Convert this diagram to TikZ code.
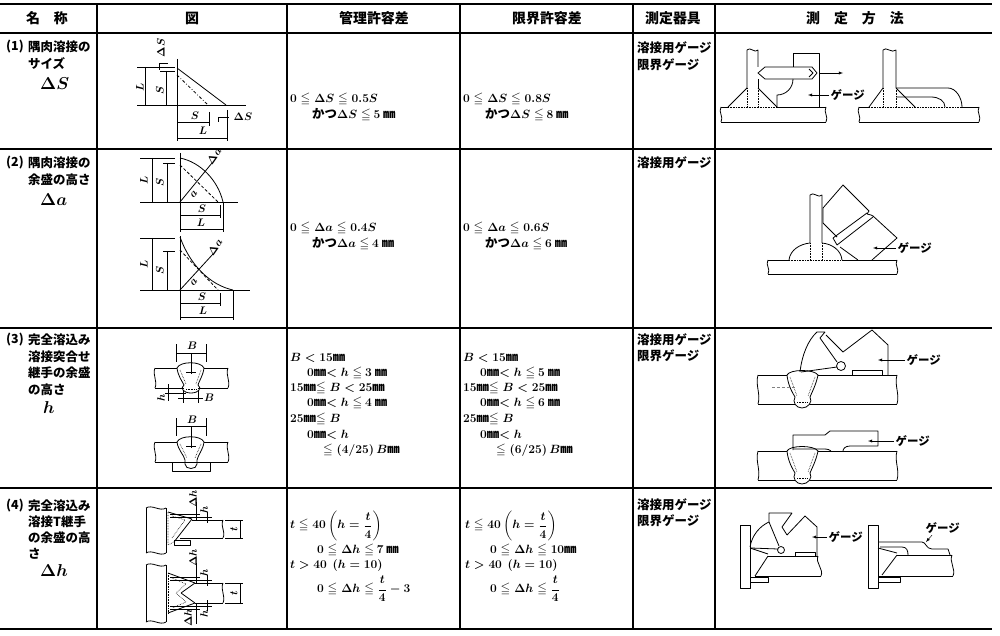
\documentclass[tikz,border=0pt]{standalone}
\usepackage{fontspec}
\usepackage{amsmath,amssymb}
\newfontfamily\jfont{Noto Sans CJK JP}
\begin{document}
\begin{tikzpicture}[x=1bp,y=-1bp,>=latex,line join=bevel,
  rule/.style={line width=1.6pt},
  vrule/.style={line width=1.1pt},
  hd/.style={draw=none,inner sep=0pt,font=\jfont\bfseries\fontsize{14}{16}\selectfont},
  tx/.style={draw=none,anchor=west,inner sep=0pt,font=\jfont\bfseries\boldmath\fontsize{12.5}{14}\selectfont},
  big/.style={draw=none,anchor=west,inner sep=0pt,font=\boldmath\fontsize{17}{20}\selectfont},
  dl/.style={draw=none,inner sep=0pt,font=\boldmath\fontsize{10.5}{12}\selectfont},
  gl/.style={draw=none,anchor=west,inner sep=1.5pt,font=\jfont\bfseries\fontsize{11.5}{13}\selectfont},
  fig/.style={line width=0.8pt},
  dimen/.style={line width=0.45pt},
  dotl/.style={line width=0.6pt,densely dotted},
]
\useasboundingbox (0,0) rectangle (1000,636);
%% table rules
\draw[rule] (0,4) -- (992,4);
\draw[rule] (0,33) -- (992,33);
\draw[rule] (0,149) -- (992,149);
\draw[rule] (0,328) -- (992,328);
\draw[rule] (0,488) -- (992,488);
\draw[rule] (0,629) -- (992,629);
\foreach \cx in {97,287,460,633,715}
  \draw[vrule] (\cx,4) -- (\cx,629);
%% header
\node (node_hname) at (47,18) [hd] {名\quad 称};
\node (node_hfig) at (192,18) [hd] {図};
\node (node_hctl) at (374,18) [hd] {管理許容差};
\node (node_hlim) at (547,18) [hd] {限界許容差};
\node (node_hins) at (673,18) [hd] {測定器具};
\node (node_hmet) at (855,18) [hd] {測\quad 定\quad 方\quad 法};
%% name column
\node (node_n1) at (6,47) [tx] {(1)};
\node (node_n1a) at (28,47) [tx] {隅肉溶接の};
\node (node_n1b) at (28,64) [tx] {サイズ};
\node (node_n1c) at (40,84) [big] {$\Delta S$};
\node (node_n2) at (6,163) [tx] {(2)};
\node (node_n2a) at (28,163) [tx] {隅肉溶接の};
\node (node_n2b) at (28,180) [tx] {余盛の高さ};
\node (node_n2c) at (40,200) [big] {$\Delta a$};
\node (node_n3) at (6,340) [tx] {(3)};
\node (node_n3a) at (28,340) [tx] {完全溶込み};
\node (node_n3b) at (28,357) [tx] {溶接突合せ};
\node (node_n3c) at (28,373) [tx] {継手の余盛};
\node (node_n3d) at (28,390) [tx] {の高さ};
\node (node_n3e) at (43,408) [big] {$h$};
\node (node_n4) at (6,506) [tx] {(4)};
\node (node_n4a) at (28,506) [tx] {完全溶込み};
\node (node_n4b) at (28,522) [tx] {溶接T継手};
\node (node_n4c) at (28,538) [tx] {の余盛の高};
\node (node_n4d) at (28,554) [tx] {さ};
\node (node_n4e) at (40,571) [big] {$\Delta h$};
%% tolerances
\node (node_c1a) at (290,99) [tx] {$0\leqq\Delta S\leqq0.5S$};
\node (node_c1b) at (312,115) [tx] {かつ$\Delta S\leqq$ $5$ ㎜};
\node (node_l1a) at (463,99) [tx] {$0\leqq\Delta S\leqq0.8S$};
\node (node_l1b) at (485,115) [tx] {かつ$\Delta S\leqq$ $8$ ㎜};
\node (node_c2a) at (290,228) [tx] {$0\leqq\Delta a\leqq0.4S$};
\node (node_c2b) at (312,244) [tx] {かつ$\Delta a\leqq$ $4$ ㎜};
\node (node_l2a) at (463,228) [tx] {$0\leqq\Delta a\leqq0.6S$};
\node (node_l2b) at (485,244) [tx] {かつ$\Delta a\leqq$ $6$ ㎜};
\node (node_c3a) at (290,358) [tx] {$B<15$㎜};
\node (node_c3b) at (307,373) [tx] {$0$㎜$<h\leqq$ $3$ ㎜};
\node (node_c3c) at (290,388) [tx] {$15$㎜$\leqq B<25$㎜};
\node (node_c3d) at (307,403) [tx] {$0$㎜$<h\leqq$ $4$ ㎜};
\node (node_c3e) at (290,419) [tx] {$25$㎜$\leqq B$};
\node (node_c3f) at (307,435) [tx] {$0$㎜$<h$};
\node (node_c3g) at (323,450) [tx] {$\leqq(4/25)\,B$㎜};
\node (node_l3a) at (463,358) [tx] {$B<15$㎜};
\node (node_l3b) at (480,373) [tx] {$0$㎜$<h\leqq$ $5$ ㎜};
\node (node_l3c) at (463,388) [tx] {$15$㎜$\leqq B<25$㎜};
\node (node_l3d) at (480,403) [tx] {$0$㎜$<h\leqq$ $6$ ㎜};
\node (node_l3e) at (463,419) [tx] {$25$㎜$\leqq B$};
\node (node_l3f) at (480,435) [tx] {$0$㎜$<h$};
\node (node_l3g) at (496,450) [tx] {$\leqq(6/25)\,B$㎜};
\node (node_c4a) at (290,526) [tx] {$t\leqq40\left(h=\dfrac{t}{4}\right)$};
\node (node_c4b) at (317,550) [tx] {$0\leqq\Delta h\leqq$ $7$ ㎜};
\node (node_c4c) at (290,566) [tx] {$t>40$\ \ $(h=10)$};
\node (node_c4d) at (317,589) [tx] {$0\leqq\Delta h\leqq\dfrac{t}{4}-3$};
\node (node_l4a) at (465,526) [tx] {$t\leqq40\left(h=\dfrac{t}{4}\right)$};
\node (node_l4b) at (490,550) [tx] {$0\leqq\Delta h\leqq10$㎜};
\node (node_l4c) at (465,566) [tx] {$t>40$\ \ $(h=10)$};
\node (node_l4d) at (490,589) [tx] {$0\leqq\Delta h\leqq\dfrac{t}{4}$};
%% instruments
\node (node_i1a) at (637,48) [tx] {溶接用ゲージ};
\node (node_i1b) at (637,65) [tx] {限界ゲージ};
\node (node_i2a) at (637,163) [tx] {溶接用ゲージ};
\node (node_i3a) at (637,340) [tx] {溶接用ゲージ};
\node (node_i3b) at (637,356) [tx] {限界ゲージ};
\node (node_i4a) at (637,505) [tx] {溶接用ゲージ};
\node (node_i4b) at (637,521) [tx] {限界ゲージ};
%% fig (1)
\draw[fig] (177,59) -- (177,105) -- (246,105);
\draw[fig] (177,68) -- (226,105);
\draw[fig,dash dot] (177,75) -- (208,105);
\draw[dimen] (137,67) -- (175,67);
\draw[dimen] (137,105) -- (177,105);
\draw[dimen] (145,67) -- (145,105);
\draw[dimen] (160,71) -- (175,71);
\draw[dimen] (166,71) -- (166,105);
\draw[dimen] (159,70) -- (159,63) -- (168,63);
\draw[dimen] (177,105) -- (177,141);
\draw[dimen] (209,112) -- (209,126);
\draw[dimen] (227,110) -- (227,141);
\draw[dimen] (177,122) -- (209,122);
\draw[dimen] (177,138) -- (227,138);
\draw[dimen] (218,122) -- (218,117) -- (229,117);
\node (node_f1L) at (140,87) [dl,rotate=90] {$L$};
\node (node_f1S) at (160,90) [dl,rotate=90] {$S$};
\node (node_f1dS) at (161,48) [dl,rotate=90] {$\Delta S$};
\node (node_f1Sb) at (195,116) [dl] {$S$};
\node (node_f1Lb) at (203,131) [dl] {$L$};
\node (node_f1dSb) at (243,117) [dl] {$\Delta S$};
%% fig (2) upper
\draw[fig] (180,153) -- (180,202) -- (238,202);
\draw[fig] (180,158) .. controls (200,162) and (218,180) .. (223,202);
\draw[fig,densely dashed] (180,165) -- (218,202);
\draw[fig] (180,202) -- (212,163);
\draw[dimen] (140,158) -- (175,158);
\draw[dimen] (140,202) -- (180,202);
\draw[dimen] (152,158) -- (152,202);
\draw[dimen] (163,163) -- (175,163);
\draw[dimen] (167,163) -- (167,202);
\draw[dimen] (180,202) -- (180,232);
\draw[dimen] (220,205) -- (220,218);
\draw[dimen] (223,202) -- (223,232);
\draw[dimen] (180,215) -- (220,215);
\draw[dimen] (180,229) -- (223,229);
\node (node_f2L) at (144,180) [dl,rotate=90] {$L$};
\node (node_f2S) at (160,182) [dl,rotate=90] {$S$};
\node (node_f2da) at (214,156) [dl,rotate=55] {$\Delta a$};
\node (node_f2a) at (194,194) [dl,rotate=50] {$a$};
\node (node_f2Sb) at (202,209) [dl] {$S$};
\node (node_f2Lb) at (201,223) [dl] {$L$};
%% fig (2) lower
\draw[fig] (180,236) -- (180,290) -- (250,290);
\draw[fig] (180,237) .. controls (190,265) and (210,285) .. (233,290);
\draw[fig,densely dashed] (180,250) -- (218,290);
\draw[fig] (180,290) -- (213,254);
\draw[dimen] (140,238) -- (175,238);
\draw[dimen] (140,290) -- (180,290);
\draw[dimen] (152,238) -- (152,290);
\draw[dimen] (163,251) -- (175,251);
\draw[dimen] (167,251) -- (167,290);
\draw[dimen] (180,290) -- (180,320);
\draw[dimen] (220,293) -- (220,306);
\draw[dimen] (233,290) -- (233,320);
\draw[dimen] (180,303) -- (220,303);
\draw[dimen] (180,317) -- (233,317);
\node (node_f2Lc) at (144,264) [dl,rotate=90] {$L$};
\node (node_f2Sc) at (160,270) [dl,rotate=90] {$S$};
\node (node_f2db) at (215,247) [dl,rotate=55] {$\Delta a$};
\node (node_f2ab) at (194,282) [dl,rotate=50] {$a$};
\node (node_f2Sd) at (202,297) [dl] {$S$};
\node (node_f2Ld) at (203,311) [dl] {$L$};
%% fig (3) upper
\draw[fig] (155,368) -- (177,368);
\draw[fig] (204,368) -- (228,368);
\draw[fig] (155,388) -- (184,388);
\draw[fig] (198,388) -- (228,388);
\draw[fig] (155,368) .. controls (152,375) and (158,381) .. (155,388);
\draw[fig] (228,368) .. controls (225,375) and (231,381) .. (228,388);
\draw[fig] (177,368) .. controls (180,361) and (201,361) .. (204,368) .. controls (203,376) and (199,381) .. (198,385) .. controls (202,388) and (199,393) .. (191,393) .. controls (183,393) and (180,388) .. (184,385) .. controls (182,381) and (178,376) .. (177,368);
\draw[dotl] (180,370) -- (186,384);
\draw[dotl] (201,370) -- (196,384);
\draw[dotl] (186,389) -- (196,389);
\draw[dimen] (176,344) -- (176,362);
\draw[dimen] (206,344) -- (206,362);
\draw[dimen] (176,353) -- (206,353);
\draw[dimen] (191,353) -- (191,374);
\draw[dimen] (186,372) -- (196,372);
\draw[dimen] (165,393) -- (186,393);
\draw[dimen] (168,384) -- (168,401);
\draw[dimen] (183,391) -- (183,403);
\draw[dimen] (198,391) -- (198,403);
\draw[dimen] (178,398) -- (203,398);
\node (node_f3B) at (192,346) [dl] {$B$};
\node (node_f3h) at (161,398) [dl,rotate=90] {$h$};
\node (node_f3Bb) at (209,398) [dl] {$B$};
%% fig (3) lower
\draw[fig] (155,442) -- (177,442);
\draw[fig] (204,442) -- (228,442);
\draw[fig] (155,462) -- (185,462);
\draw[fig] (197,462) -- (228,462);
\draw[fig] (155,442) .. controls (152,449) and (158,455) .. (155,462);
\draw[fig] (228,442) .. controls (225,449) and (231,455) .. (228,462);
\draw[fig] (172,462) rectangle (210,471);
\draw[fig] (177,442) .. controls (180,435) and (201,435) .. (204,442) .. controls (203,450) and (198,455) .. (197,460) -- (197,464) .. controls (197,470) and (185,470) .. (185,464) -- (185,460) .. controls (184,455) and (178,450) .. (177,442);
\draw[dotl] (180,444) -- (187,458);
\draw[dotl] (201,444) -- (195,458);
\draw[dimen] (176,418) -- (176,436);
\draw[dimen] (206,418) -- (206,436);
\draw[dimen] (176,426) -- (206,426);
\draw[dimen] (191,426) -- (191,448);
\draw[dimen] (186,446) -- (196,446);
\node (node_f3Bc) at (192,420) [dl] {$B$};
%% fig (4) upper
\draw[fig] (146,508) -- (146,553);
\draw[fig] (166,508) -- (166,553);
\draw[fig] (146,508) .. controls (152,504) and (160,512) .. (166,508);
\draw[fig] (146,553) .. controls (152,549) and (160,557) .. (166,553);
\draw[fig] (192,520) -- (223,520);
\draw[fig] (180,538) -- (223,538);
\draw[fig] (223,520) .. controls (220,527) and (226,531) .. (223,538);
\draw[fig] (168,512) -- (192,519) -- (174,542);
\draw[dotl] (168,512) -- (168,545) -- (174,542);
\draw[dotl] (172,516) -- (185,520) -- (172,538);
\draw[fig] (174,540) rectangle (190,545);
\draw[dimen] (170,514) -- (200,514);
\draw[dimen] (170,517) -- (212,517);
\draw[dimen] (196,502) -- (196,520);
\draw[dimen] (207,512) -- (207,523);
\draw[dimen] (225,520) -- (243,520);
\draw[dimen] (225,538) -- (243,538);
\draw[dimen] (240,520) -- (240,538);
\node (node_f4dh) at (193,499) [dl,rotate=90] {$\Delta h$};
\node (node_f4h) at (204,510) [dl,rotate=90] {$h$};
\node (node_f4t) at (234,529) [dl,rotate=90] {$t$};
%% fig (4) lower
\draw[fig] (146,565) -- (146,622);
\draw[fig] (166,565) -- (166,622);
\draw[fig] (146,565) .. controls (152,561) and (160,569) .. (166,565);
\draw[fig] (146,622) .. controls (152,618) and (160,626) .. (166,622);
\draw[fig] (195,583) -- (223,583);
\draw[fig] (195,603) -- (223,603);
\draw[fig] (223,583) .. controls (220,590) and (226,596) .. (223,603);
\draw[fig] (168,573) -- (195,583) -- (181,593) -- (195,603) -- (168,613);
\draw[dotl] (168,573) -- (168,613);
\draw[dotl] (172,578) -- (186,584) -- (176,593) -- (186,602) -- (172,608);
\draw[dimen] (170,577) -- (200,577);
\draw[dimen] (170,580) -- (212,580);
\draw[dimen] (196,563) -- (196,583);
\draw[dimen] (207,575) -- (207,586);
\draw[dimen] (170,609) -- (200,609);
\draw[dimen] (170,606) -- (212,606);
\draw[dimen] (196,603) -- (196,624);
\draw[dimen] (207,600) -- (207,611);
\draw[dimen] (225,583) -- (243,583);
\draw[dimen] (225,603) -- (243,603);
\draw[dimen] (240,583) -- (240,603);
\node (node_f4dhb) at (193,558) [dl,rotate=90] {$\Delta h$};
\node (node_f4hb) at (204,573) [dl,rotate=90] {$h$};
\node (node_f4hc) at (204,614) [dl,rotate=90] {$h$};
\node (node_f4dhc) at (188,618) [dl,rotate=90] {$\Delta h$};
\node (node_f4tb) at (234,593) [dl,rotate=90] {$t$};
%% method (1) left
\draw[fig] (721,107) -- (728,107);
\draw[fig] (777,107) -- (826,107);
\draw[fig] (721,122) -- (826,122);
\draw[fig] (721,107) .. controls (718,112) and (724,117) .. (721,122);
\draw[fig] (826,107) .. controls (823,112) and (829,117) .. (826,122);
\draw[fig] (747,88) -- (747,50) .. controls (750,46) and (755,54) .. (758,50) -- (758,67);
\draw[fig] (758,79) -- (758,88);
\draw[fig] (728,107) -- (747,88);
\draw[fig] (758,88) -- (777,107);
\draw[dotl] (747,88) -- (747,107);
\draw[dotl] (758,88) -- (758,107);
\draw[dotl] (728,107) -- (777,107);
\draw[fig] (793,67) -- (793,53) -- (819,53) -- (819,107);
\draw[fig] (765,67) -- (812,67) -- (817,73) -- (812,79) -- (765,79) -- (758,73) -- cycle;
\draw[fig] (809,69) -- (813,73) -- (809,77);
\draw[fig] (793,79) .. controls (793,88) and (786,95) .. (777,95) -- (777,107);
\coordinate (m1_pull) at (843,73);
\draw[dimen,->] (819,73) -- (m1_pull);
\node (node_m1g) at (829,95) [gl] {ゲージ};
\coordinate (m1_tip) at (808,95);
\draw[dimen,->] (node_m1g.west) -- (m1_tip);
%% method (1) right
\draw[fig] (859,107) -- (869,107);
\draw[fig] (962,107) -- (979,107);
\draw[fig] (859,122) -- (979,122);
\draw[fig] (859,107) .. controls (856,112) and (862,117) .. (859,122);
\draw[fig] (979,107) .. controls (976,112) and (982,117) .. (979,122);
\draw[fig] (883,88) -- (883,50) .. controls (886,46) and (892,54) .. (896,50) -- (896,88);
\draw[fig] (869,107) -- (883,88);
\draw[fig] (896,88) -- (915,107);
\draw[dotl] (883,88) -- (883,107);
\draw[dotl] (896,88) -- (896,107);
\draw[dotl] (869,107) -- (962,107);
\draw[fig] (896,88) -- (948,88) .. controls (956,88) and (962,98) .. (962,107);
\draw[fig] (896,97) -- (931,97) .. controls (939,97) and (945,101) .. (945,107);
%% method (2)
\draw[fig] (768,260) -- (789,260);
\draw[fig] (842,260) -- (897,260);
\draw[fig] (768,274) -- (897,274);
\draw[fig] (768,260) .. controls (765,265) and (771,269) .. (768,274);
\draw[fig] (897,260) .. controls (894,265) and (900,269) .. (897,274);
\draw[fig] (810,243) -- (810,195) .. controls (813,191) and (819,199) .. (822,195) -- (822,243);
\draw[fig] (789,260) .. controls (790,250) and (800,244) .. (810,243);
\draw[fig] (822,243) .. controls (832,244) and (841,250) .. (842,260);
\draw[dotl] (810,243) -- (810,260);
\draw[dotl] (822,243) -- (822,260);
\draw[dotl] (789,260) -- (842,260);
\draw[fig] (869,211) -- (843,185) -- (823,208) -- (823,223) -- (837,237);
\draw[fig] (873,216) -- (897,238) -- (872,260);
\draw[fig] (869,211) -- (867,214) -- (871,215) -- (873,216);
\draw[fig] (867,213) -- (833,238) -- (837,245) -- (873,217);
\draw[fig] (840,247) -- (858,260);
\node (node_m2g) at (896,248) [gl] {ゲージ};
\coordinate (m2_tip) at (873,248);
\draw[dimen,->] (node_m2g.west) -- (m2_tip);
%% method (3) upper
\draw[fig] (758,375) -- (787,375);
\draw[fig] (818,375) -- (897,375);
\draw[fig] (758,404) -- (795,404);
\draw[fig] (810,404) -- (897,404);
\draw[fig] (758,375) .. controls (755,385) and (761,394) .. (758,404);
\draw[fig] (897,375) .. controls (894,385) and (900,394) .. (897,404);
\draw[fig] (787,375) .. controls (790,369) and (814,369) .. (818,375) .. controls (816,385) and (812,392) .. (810,397) .. controls (813,402) and (808,408) .. (802,408) .. controls (796,408) and (792,402) .. (795,397) .. controls (792,392) and (788,385) .. (787,375);
\draw[dotl] (790,377) -- (797,396);
\draw[dotl] (815,377) -- (808,396);
\draw[dotl] (797,402) -- (808,402);
\draw[dimen,densely dashed,gray] (772,387) -- (795,387);
\draw[fig] (800,372) .. controls (802,355) and (808,340) .. (817,332) -- (825,332) -- (820,338) -- (837,362);
\draw[fig] (826,335) -- (843,352) -- (872,330) -- (888,345) -- (888,375);
\draw[fig] (841,366) circle[radius=4.5];
\draw[fig] (837,367) -- (801,372);
\draw[fig] (852,375) -- (852,370) -- (882,370) -- (882,375);
\node (node_m3g) at (905,360) [gl] {ゲージ};
\coordinate (m3_tip) at (878,360);
\draw[dimen,->] (node_m3g.west) -- (m3_tip);
%% method (3) lower
\draw[fig] (758,451) -- (787,451);
\draw[fig] (818,451) -- (897,451);
\draw[fig] (758,480) -- (795,480);
\draw[fig] (810,480) -- (897,480);
\draw[fig] (758,451) .. controls (755,461) and (761,470) .. (758,480);
\draw[fig] (897,451) .. controls (894,461) and (900,470) .. (897,480);
\draw[fig] (787,451) .. controls (790,445) and (814,445) .. (818,451) .. controls (816,461) and (812,468) .. (810,473) .. controls (813,478) and (808,484) .. (802,484) .. controls (796,484) and (792,478) .. (795,473) .. controls (792,468) and (788,461) .. (787,451);
\draw[dotl] (790,453) -- (797,472);
\draw[dotl] (815,453) -- (808,472);
\draw[dotl] (797,478) -- (808,478);
\draw[fig] (793,450) -- (793,435) -- (825,435) -- (830,431) -- (878,431) -- (878,446) -- (850,446) .. controls (845,446) and (843,449) .. (843,451);
\draw[fig] (793,449) -- (824,449) .. controls (828,449) and (830,450) .. (831,451);
\node (node_m3h) at (894,441) [gl] {ゲージ};
\coordinate (m3_tipb) at (868,441);
\draw[dimen,->] (node_m3h.west) -- (m3_tipb);
%% method (4) left
\draw[fig] (740,525) rectangle (750,588);
\draw[fig] (768,556) -- (818,556);
\draw[fig] (755,576) -- (821,576);
\draw[fig] (818,556) .. controls (815,563) and (824,569) .. (821,576);
\draw[fig] (755,576) -- (768,556);
\draw[fig] (750,548) -- (768,554);
\draw[fig] (750,577) rectangle (768,582);
\draw[fig] (750,547) .. controls (752,535) and (760,526) .. (769,522) -- (769,513) -- (792,513) -- (782,527) -- (787,535) -- (805,516) -- (817,527) -- (817,556);
\draw[fig] (769,522) -- (779,546);
\draw[fig] (781,550) circle[radius=3.5];
\draw[fig] (778,549) -- (751,548);
\draw[fig] (795,556) -- (795,552) -- (815,552) -- (815,556);
\node (node_m4g) at (827,537) [gl] {ゲージ};
\coordinate (m4_tip) at (812,537);
\draw[dimen,->] (node_m4g.west) -- (m4_tip);
%% method (4) right
\draw[fig] (868,525) rectangle (878,588);
\draw[fig] (897,555) -- (952,555);
\draw[fig] (878,576) -- (953,576);
\draw[fig] (952,555) .. controls (949,562) and (956,569) .. (953,576);
\draw[fig] (882,575) -- (897,555);
\draw[fig] (878,548) -- (897,553);
\draw[fig] (878,577) rectangle (900,582);
\draw[fig] (878,542) -- (922,542) .. controls (926,542) and (926,549) .. (932,549) -- (948,549) -- (950,555);
\draw[fig] (880,547) -- (902,547) .. controls (907,547) and (908,551) .. (908,555);
\node (node_m4h) at (924,528) [gl] {ゲージ};
\coordinate (m4_tipb) at (926,542);
\draw[dimen,->] (node_m4h.south west) ++(8,0) -- (m4_tipb);
%
\end{tikzpicture}
\end{document}
